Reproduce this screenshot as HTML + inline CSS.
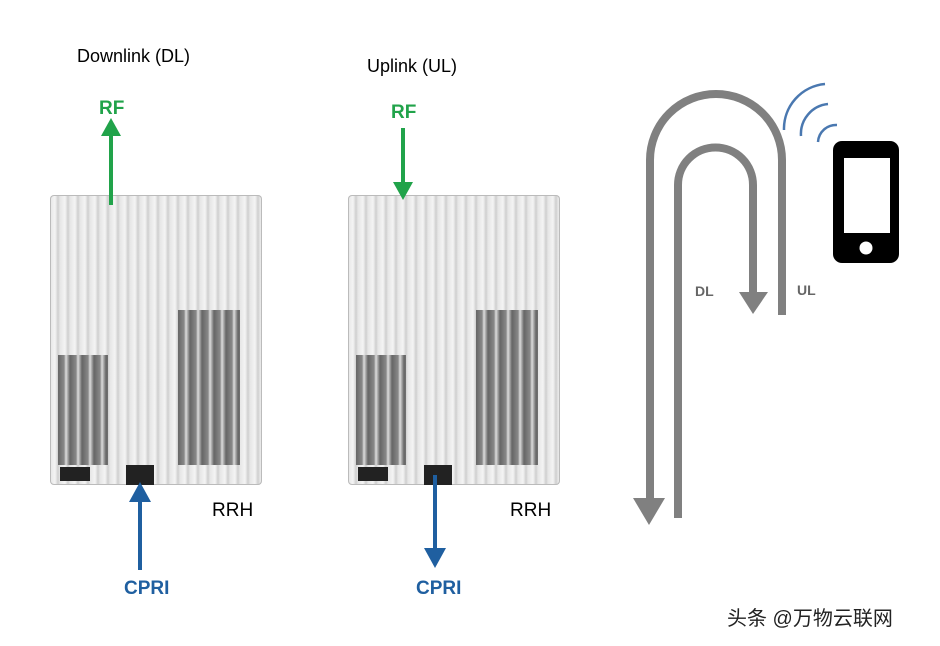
<!DOCTYPE html><html><head><meta charset="utf-8"><style>
body{margin:0;width:940px;height:646px;background:#fff;overflow:hidden;position:relative;font-family:"Liberation Sans",sans-serif}
.t{position:absolute;white-space:nowrap}
.dev{position:absolute;width:212px;height:290px;background:repeating-linear-gradient(90deg,#e6e6e6 0,#f4f4f4 5px,#cfcfcf 8px,#e6e6e6 10px);border-radius:4px;box-shadow:inset 0 0 0 1px #bbb}
.dev .a{position:absolute;background:repeating-linear-gradient(90deg,#666 0,#888 6px,#ddd 8px,#666 12px)}
.dev .b{position:absolute;background:#222}
</style></head><body>
<div class="t" style="left:77px;top:46px;font-size:18px">Downlink (DL)</div>
<div class="t" style="left:367px;top:56px;font-size:18px">Uplink (UL)</div>
<div class="dev" style="left:50px;top:195px"><div class="a" style="left:8px;top:160px;width:50px;height:110px"></div><div class="a" style="left:128px;top:115px;width:62px;height:155px"></div><div class="b" style="left:10px;top:272px;width:30px;height:14px"></div><div class="b" style="left:76px;top:270px;width:28px;height:20px"></div></div>
<div class="dev" style="left:348px;top:195px"><div class="a" style="left:8px;top:160px;width:50px;height:110px"></div><div class="a" style="left:128px;top:115px;width:62px;height:155px"></div><div class="b" style="left:10px;top:272px;width:30px;height:14px"></div><div class="b" style="left:76px;top:270px;width:28px;height:20px"></div></div>
<div class="t" style="left:212px;top:500px;font-size:19px">RRH</div>
<div class="t" style="left:510px;top:500px;font-size:19px">RRH</div>
<div class="t" style="left:99px;top:98px;font-size:19px;font-weight:bold;color:#21a34a">RF</div>
<div class="t" style="left:391px;top:102px;font-size:19px;font-weight:bold;color:#21a34a">RF</div>
<div class="t" style="left:124px;top:578px;font-size:19px;font-weight:bold;color:#1f5fa0">CPRI</div>
<div class="t" style="left:416px;top:578px;font-size:19px;font-weight:bold;color:#1f5fa0">CPRI</div>
<div class="t" style="left:695px;top:283px;font-size:14px;font-weight:bold;color:#666">DL</div>
<div class="t" style="left:797px;top:282px;font-size:14px;font-weight:bold;color:#666">UL</div>
<div class="t" style="left:727px;top:602px;font-size:20px;color:#222;font-family:'Liberation Sans','Noto Sans CJK SC',sans-serif">头条 @万物云联网</div>
<svg width="940" height="646" style="position:absolute;left:0;top:0">
<line x1="111" y1="205" x2="111" y2="134" stroke="#21a34a" stroke-width="4"/><polygon points="101,136 121,136 111,118" fill="#21a34a"/>
<line x1="403" y1="128" x2="403" y2="184" stroke="#21a34a" stroke-width="4"/><polygon points="393,182 413,182 403,200" fill="#21a34a"/>
<line x1="140" y1="570" x2="140" y2="500" stroke="#1f5fa0" stroke-width="4"/><polygon points="129,502 151,502 140,482" fill="#1f5fa0"/>
<line x1="435" y1="475" x2="435" y2="550" stroke="#1f5fa0" stroke-width="4"/><polygon points="424,548 446,548 435,568" fill="#1f5fa0"/>
<g fill="none" stroke="#808080" stroke-width="8">
<path d="M650 500 V160 A66 66 0 0 1 782 160 V315"/>
<path d="M678 518 V185 A37.5 37.5 0 0 1 753 185 V294"/>
</g>
<polygon points="633,498 665,498 649,525" fill="#808080"/>
<polygon points="739,292 768,292 753,314" fill="#808080"/>
<g fill="none" stroke="#4a78b0" stroke-width="2.5">
<path d="M784 130 A45 45 0 0 1 825 84"/>
<path d="M801 136 A30 30 0 0 1 828 104"/>
<path d="M818 142 A18 18 0 0 1 837 125"/>
</g>
<rect x="833" y="141" width="66" height="122" rx="9" fill="#000"/>
<rect x="844" y="158" width="46" height="75" fill="#fff"/>
<circle cx="866" cy="248" r="6.5" fill="#fff"/>
</svg>
</body></html>
